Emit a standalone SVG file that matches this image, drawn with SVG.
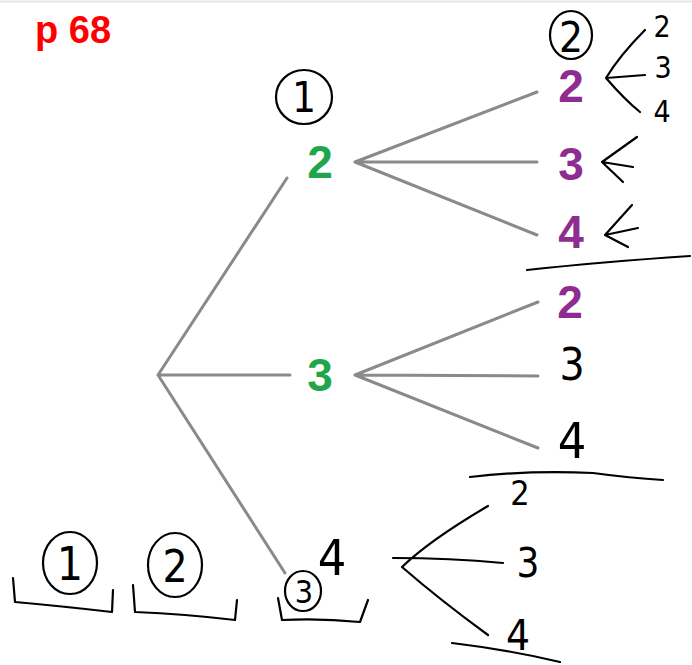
<svg xmlns="http://www.w3.org/2000/svg" width="692" height="665" viewBox="0 0 692 665">
<style>
.tree{stroke:#8a8a8a;stroke-width:3;fill:none;stroke-linecap:round}
.ink{stroke:#000;stroke-width:2.2;fill:none;stroke-linecap:round;stroke-linejoin:round}
.green{fill:#1fa64a;font:bold 46px "Liberation Sans",Arial,sans-serif;text-anchor:middle}
.purple{fill:#8e2d8f;font:bold 46px "Liberation Sans",Arial,sans-serif;text-anchor:middle}
.hand{fill:#000;font-family:"DejaVu Sans Condensed","DejaVu Sans","Liberation Sans",sans-serif;font-stretch:condensed;font-weight:normal;text-anchor:middle}
.title{fill:#ff0000;font:bold 38px "Liberation Sans",Arial,sans-serif}
</style>
<rect width="692" height="665" fill="#fff"/>
<line x1="0" y1="1.5" x2="692" y2="1.5" stroke="#e6e6e6" stroke-width="2"/>
<text class="title" x="35" y="43">p 68</text>
<g id="connectors">
<path class="tree" d="M158,375 L287,178 M158,375 L290,375 M158,375 L285,573"/>
<path class="tree" d="M355,162 L537,92 M355,162 L537,162 M355,162 L537,235"/>
<path class="tree" d="M355,375 L538,302 M355,375 L538,376 M355,375 L538,448"/>
</g>
<g id="node-l1-2"><text class="green" x="320" y="178">2</text></g>
<g id="node-l1-3"><text class="green" x="320" y="391">3</text></g>
<g id="node-l2-2a"><text class="purple" x="571" y="102">2</text></g>
<g id="node-l2-3a"><text class="purple" x="571" y="180">3</text></g>
<g id="node-l2-4a"><text class="purple" x="571" y="248">4</text></g>
<g id="node-l2-2b"><text class="purple" x="570" y="318">2</text></g>
<g id="annotations">
<g id="circle1-top"><ellipse class="ink" cx="304" cy="97" rx="28" ry="27"/><text class="hand" x="304" y="112" font-size="42">1</text></g>
<g id="circle2-top"><ellipse class="ink" cx="571" cy="35" rx="21" ry="24"/><text class="hand" x="571" y="52" font-size="42">2</text></g>
<path class="ink" d="M645,30 Q620,55 606,78 L645,75 M606,78 Q625,100 640,112"/>
<text class="hand" x="662" y="37" font-size="30">2</text>
<text class="hand" x="663" y="78" font-size="30">3</text>
<text class="hand" x="662" y="122" font-size="30">4</text>
<path class="ink" d="M637,137 L602,162 L633,167 M602,162 L623,182"/>
<path class="ink" d="M632,205 L605,235 L638,228 M605,235 L628,247"/>
<path class="ink" d="M527,270 Q600,262 690,256"/>
<text class="hand" x="572" y="380" font-size="44">3</text>
<text class="hand" x="572" y="458" font-size="50">4</text>
<path class="ink" d="M470,477 Q530,470 593,473 Q630,478 663,480"/>
<text class="hand" x="520" y="505" font-size="34">2</text>
<path class="ink" d="M488,506 Q430,540 402,567 Q440,600 488,635 M393,558 Q450,558 503,563"/>
<text class="hand" x="528" y="577" font-size="40">3</text>
<text class="hand" x="518" y="650" font-size="42">4</text>
<path class="ink" d="M452,643 Q510,650 560,662"/>
<text class="hand" x="332" y="575" font-size="50">4</text>
<g id="circle3"><ellipse class="ink" cx="303" cy="591" rx="18" ry="20"/><text class="hand" x="304" y="603" font-size="32">3</text></g>
<path class="ink" d="M278,598 L282,620 Q320,618 360,622 L368,600"/>
<g id="circle1-bottom"><ellipse class="ink" cx="70" cy="563" rx="27" ry="31"/><text class="hand" x="70" y="580" font-size="46">1</text></g>
<g id="circle2-bottom"><ellipse class="ink" cx="175" cy="565" rx="27" ry="32"/><text class="hand" x="175" y="582" font-size="44">2</text></g>
<path class="ink" d="M13,578 L15,602 Q60,606 112,612 L113,590"/>
<path class="ink" d="M133,585 L135,612 Q185,614 235,620 L237,600"/>
</g>
</svg>
